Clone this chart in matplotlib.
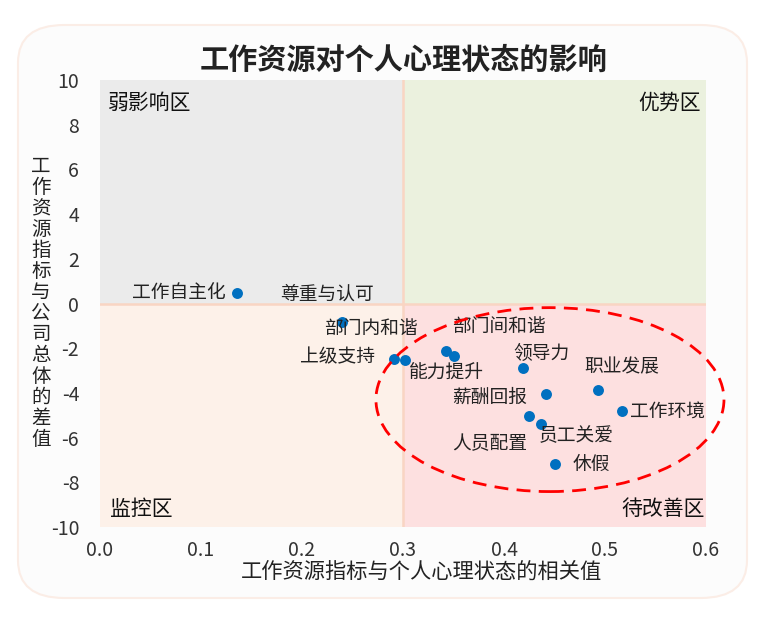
import matplotlib
matplotlib.use("Agg")
import matplotlib.pyplot as plt
from matplotlib.patches import Ellipse, FancyBboxPatch, Rectangle

plt.rcParams['font.family'] = ['Noto Sans CJK SC', 'DejaVu Sans']
plt.rcParams['axes.unicode_minus'] = False

# data
names = ["工作自主化", "尊重与认可", "上级支持", "部门内和谐", "部门间和谐", "能力提升", "领导力",
         "薪酬回报", "职业发展", "工作环境", "人员配置", "员工关爱", "休假"]
corr = [0.136, 0.240, 0.291, 0.302, 0.343, 0.350, 0.419, 0.442, 0.493, 0.517, 0.425, 0.437, 0.450]
diff = [0.49, -0.84, -2.47, -2.55, -2.13, -2.33, -2.88, -4.04, -3.85, -4.82, -5.04, -5.41, -7.20]

# label offsets in pixels (dx, dy) and horizontal alignment
label_pos = {
    "工作自主化": (-12, 0, "right"),
    "尊重与认可": (-15, 28, "center"),
    "上级支持": (-19, 2, "right"),
    "部门内和谐": (-34, 32, "center"),
    "部门间和谐": (53, 25, "center"),
    "能力提升": (-7, -18, "center"),
    "领导力": (18, 14, "center"),
    "薪酬回报": (-19, -3, "right"),
    "职业发展": (24, 23, "center"),
    "工作环境": (8, 0, "left"),
    "人员配置": (-40, -27, "center"),
    "员工关爱": (35, -11, "center"),
    "休假": (18, 0, "left"),
}

xticks = [0.0, 0.1, 0.2, 0.3, 0.4, 0.5, 0.6]
yticks = [10, 8, 6, 4, 2, 0, -2, -4, -6, -8, -10]

fig = plt.figure(figsize=(7.72, 6.29), dpi=100)
fig.patch.set_facecolor("white")

# rounded card behind the chart
card = FancyBboxPatch((18 / 772, 1 - 598 / 629), (747 - 18) / 772, (598 - 25) / 629,
                      boxstyle="round,pad=0,rounding_size=0.06", transform=fig.transFigure,
                      facecolor="#FCFCFC", edgecolor="#FBEDE6", linewidth=1.5, zorder=-5)
fig.patches.append(card)

ax = fig.add_axes([100 / 772, 1 - 527 / 629, 606 / 772, 447 / 629])
ax.set_facecolor("none")
ax.set_xlim(0, 0.6)
ax.set_ylim(-10, 10)

# quadrant backgrounds
ax.add_patch(Rectangle((0, 0), 0.3, 10, facecolor="#EBEBEB", edgecolor="none", zorder=0))
ax.add_patch(Rectangle((0.3, 0), 0.3, 10, facecolor="#EBF1DE", edgecolor="none", zorder=0))
ax.add_patch(Rectangle((0, -10), 0.3, 10, facecolor="#FDF1E9", edgecolor="none", zorder=0))
ax.add_patch(Rectangle((0.3, -10), 0.3, 10, facecolor="#FDE0E0", edgecolor="none", zorder=0))
ax.axvline(0.3, color="#F9D5C3", linewidth=1.8, zorder=1)
ax.axhline(0, color="#F9D5C3", linewidth=1.8, zorder=1)

ax.scatter(corr, diff, s=62, color="#0070C0", zorder=3, linewidths=0)

for name, x, y in zip(names, corr, diff):
    dx, dy, ha = label_pos[name]
    ax.annotate(name, (x, y), xytext=(dx, dy), textcoords="offset pixels",
                ha=ha, va="center", fontsize=13.5, color="#222222", zorder=4)

ell = Ellipse((0.4455, -4.30), 0.3446, 8.23, fill=False, edgecolor="#FF0000",
              linewidth=2, linestyle=(0, (5, 3)), clip_on=False, zorder=5)
ax.add_patch(ell)

# quadrant names
ax.text(0.008, 9.0, "弱影响区", fontsize=15, ha="left", va="center", color="#111111")
ax.text(0.5945, 9.0, "优势区", fontsize=15, ha="right", va="center", color="#111111")
ax.text(0.010, -9.2, "监控区", fontsize=15, ha="left", va="center", color="#111111")
ax.text(0.599, -9.2, "待改善区", fontsize=15, ha="right", va="center", color="#111111")

ax.set_xticks(xticks)
ax.set_xticklabels([f"{t:.1f}" for t in xticks])
ax.set_yticks(yticks)
ax.set_yticklabels([str(t) for t in yticks])
ax.tick_params(length=0, labelsize=14, colors="#333333")
ax.tick_params(axis="x", pad=9)
ax.tick_params(axis="y", pad=15)
for lbl in ax.get_xticklabels() + ax.get_yticklabels():
    lbl.set_fontweight("light")
for sp in ax.spines.values():
    sp.set_visible(False)

fig.text(404 / 772, 1 - 60 / 629, "工作资源对个人心理状态的影响", fontsize=21,
         fontweight="bold", ha="center", va="center", color="#222222")
fig.text(421 / 772, 1 - 572 / 629, "工作资源指标与个人心理状态的相关值", fontsize=15.3,
         ha="center", va="center", color="#222222")
fig.text(41 / 772, 1 - 303 / 629, "\n".join("工作资源指标与公司总体的差值"), fontsize=14,
         ha="center", va="center", color="#222222", linespacing=1.0)

fig.savefig("out.png", dpi=100, facecolor=fig.get_facecolor())
